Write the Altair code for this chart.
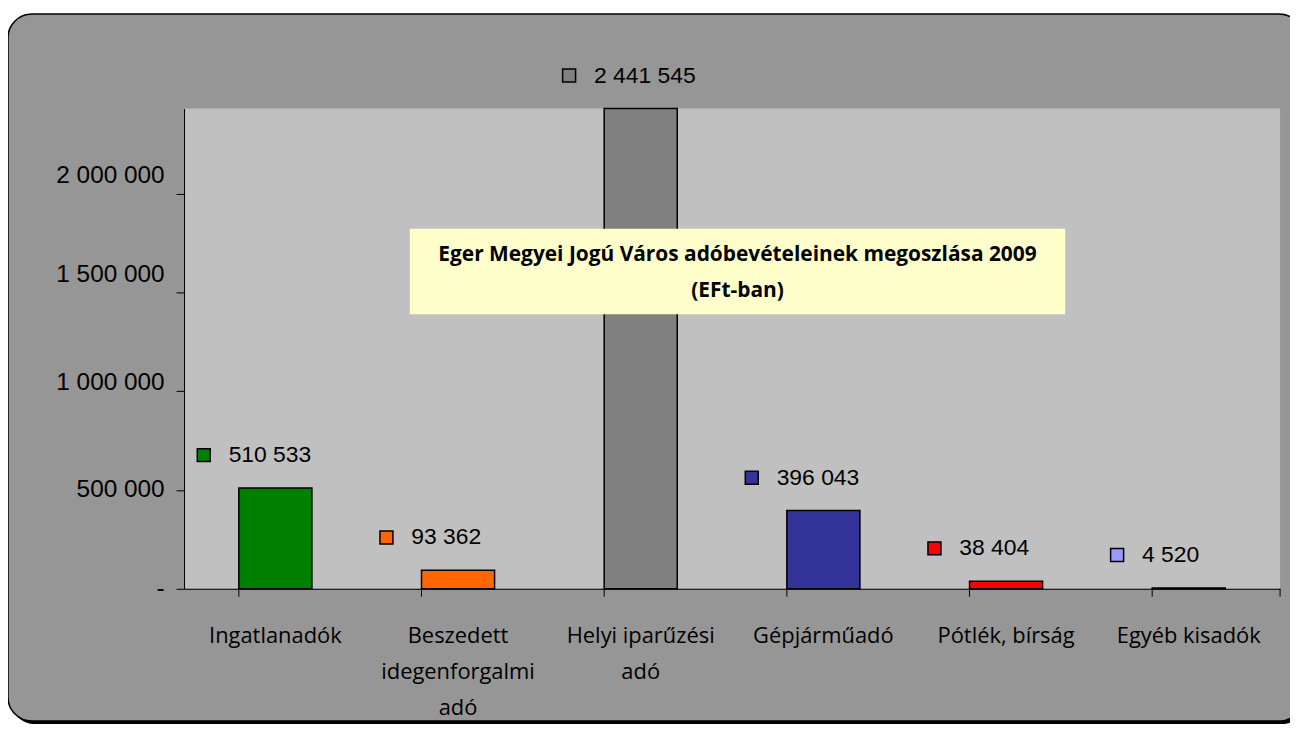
import altair as alt
import pandas as pd

categories = ["Ingatlanadók", "Beszedett|idegenforgalmi|adó", "Helyi iparűzési|adó",
              "Gépjárműadó", "Pótlék, bírság", "Egyéb kisadók"]
values = [510533, 93362, 2441545, 396043, 38404, 4520]
colors = ["#008000", "#FF6600", "#808080", "#333399", "#FF0000", "#9999FF"]
y_ticks = [0, 500000, 1000000, 1500000, 2000000]
title_lines = ["Eger Megyei Jogú Város adóbevételeinek megoszlása 2009", "(EFt-ban)"]

W, H = 1102, 483
YMAX = 2432000
NUM_FONT = "Liberation Sans"
COMIC = "Comic Sans MS, Open Sans"

df = pd.DataFrame({
    "cat": categories,
    "value": values,
    "label": [f"{v:,}".replace(",", " ") for v in values],
})
one = pd.DataFrame({"k": [0]})

xscale = alt.Scale(domain=categories, paddingInner=0.6, paddingOuter=0.3)
yscale = alt.Scale(domain=[0, YMAX], nice=False, zero=True, clamp=True)
cscale = alt.Scale(domain=categories, range=colors)

x_axis = alt.Axis(title=None, ticks=False, labelExpr="split(datum.label, '|')",
                  labelFont=COMIC, labelFontSize=22, labelColor="black",
                  labelLineHeight=36, labelPadding=37, domainColor="black",
                  domainWidth=1, labelAngle=0, zindex=1, labelLimit=0)
y_axis = alt.Axis(title=None, values=y_ticks,
                  labelExpr="datum.value == 0 ? '-' : replace(format(datum.value, ','), regexp(',', 'g'), ' ')",
                  labelFont=NUM_FONT, labelFontSize=24.5, labelColor="black",
                  tickSize=8, tickColor="black", domainColor="black", domainWidth=1,
                  labelPadding=12, grid=False, zindex=1, labelBaseline="middle",
                  labelOffset={"condition": [{"test": "datum.value >= 1500000", "value": -18},
                                             {"test": "datum.value >= 1000000", "value": -9}],
                               "value": 0})

X = alt.X("cat:N", sort=categories, scale=xscale, axis=x_axis)
Y = alt.Y("value:Q", scale=yscale, axis=y_axis)

shadow = alt.Chart(one).mark_rect(cornerRadius=24, fill="black").encode(
    x=alt.value(-174), x2=alt.value(1128), y=alt.value(-92), y2=alt.value(619))
frame = alt.Chart(one).mark_rect(cornerRadius=24, fill="#969696", stroke="black", strokeWidth=1.5).encode(
    x=alt.value(-177), x2=alt.value(1125), y=alt.value(-95), y2=alt.value(616))
plotbg = alt.Chart(one).mark_rect(fill="#C0C0C0").encode(
    x=alt.value(0), x2=alt.value(W), y=alt.value(0), y2=alt.value(H))

bars = alt.Chart(df).mark_bar(stroke="black", strokeWidth=1.5).encode(
    x=X, y=Y, color=alt.Color("cat:N", scale=cscale, legend=None))

ticks = alt.Chart(df).mark_rule(color="black", strokeWidth=1).encode(
    x=alt.X("cat:N", sort=categories, scale=xscale, bandPosition=0, axis=x_axis),
    y=alt.value(H), y2=alt.value(H + 8))
endtick = alt.Chart(one).mark_rule(color="black", strokeWidth=1).encode(
    x=alt.value(W), y=alt.value(H), y2=alt.value(H + 8))

titlebox = alt.Chart(one).mark_rect(fill="#FFFFCC").encode(
    x=alt.value(227), x2=alt.value(886), y=alt.value(121), y2=alt.value(207))
titletext = alt.Chart(one).mark_text(text=title_lines, font=COMIC, fontSize=21, fontWeight="bold",
                                     color="black", lineHeight=37, align="center",
                                     baseline="middle").encode(
    x=alt.value(556.5), y=alt.value(147))

squares = alt.Chart(df).mark_point(shape="square", filled=True, size=170, stroke="black",
                                   strokeWidth=1.5, opacity=1, xOffset=-72, yOffset=-33).encode(
    x=X, y=Y, fill=alt.Color("cat:N", scale=cscale, legend=None))
texts = alt.Chart(df).mark_text(font=NUM_FONT, fontSize=23, color="black", align="left",
                                baseline="middle", xOffset=-47, yOffset=-33).encode(
    x=X, y=Y, text="label:N")

chart = alt.layer(shadow, frame, plotbg, bars, ticks, endtick, titlebox, titletext,
                  squares, texts).properties(
    width=W, height=H, autosize="none",
    padding={"left": 177, "top": 99, "right": 10, "bottom": 135},
    background="white",
).configure_view(stroke=None)

chart.save("out.html", embed_options={"renderer": "svg", "actions": False})
